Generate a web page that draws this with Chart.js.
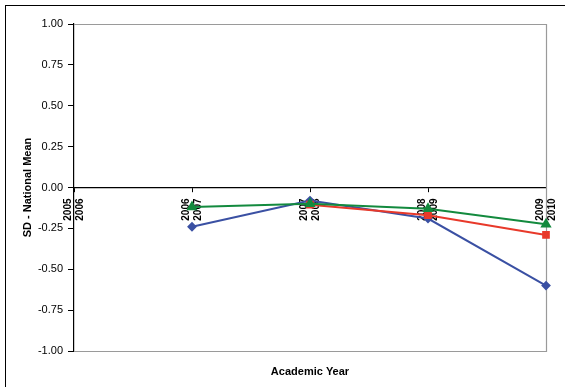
<!DOCTYPE html>
<html>
<head>
<meta charset="utf-8">
<script src="https://cdn.jsdelivr.net/npm/chart.js@4/dist/chart.umd.min.js"></script>
<style>
  html, body { margin: 0; padding: 0; background: #fff; }
  #wrap { position: relative; width: 565px; height: 387px; overflow: hidden; }
  #frame { position: absolute; left: 5px; top: 5px; width: 620px; height: 420px;
           border-left: 1.5px solid #000; border-top: 1.5px solid #000; }
  canvas { position: absolute; left: 0; top: 0; }
</style>
</head>
<body>
<div id="wrap">
  <div id="frame"></div>
  <canvas id="c" width="565" height="387"></canvas>
</div>
<script>
// Academic years on the category axis (two-line labels)
const years = [
  ['2005', '2006'],
  ['2006', '2007'],
  ['2007', '2008'],
  ['2008', '2009'],
  ['2009', '2010']
];

// Difference from the national mean, in SD units
const seriesBlue  = [null, -0.24, -0.08, -0.19, -0.60];
const seriesRed   = [null, null, -0.105, -0.17, -0.29];
const seriesGreen = [null, -0.12, -0.10, -0.13, -0.225];

const yTicks = [-1, -0.75, -0.5, -0.25, 0, 0.25, 0.5, 0.75, 1];

// Grey plot-area outline on the top, right and bottom sides
const plotFrame = {
  id: 'plotFrame',
  beforeDatasetsDraw(chart) {
    const { ctx, chartArea: a } = chart;
    ctx.save();
    ctx.strokeStyle = '#9a9a9a';
    ctx.lineWidth = 1.2;
    ctx.beginPath();
    ctx.moveTo(a.left, a.top + 0.5);
    ctx.lineTo(a.right + 0.5, a.top + 0.5);
    ctx.lineTo(a.right + 0.5, a.bottom + 0.5);
    ctx.lineTo(a.left, a.bottom + 0.5);
    ctx.stroke();
    ctx.restore();
  }
};

const font = 'Liberation Sans, Arial, sans-serif';

new Chart(document.getElementById('c'), {
  type: 'line',
  data: {
    labels: years,
    datasets: [
      {
        data: seriesGreen, xAxisID: 'x', yAxisID: 'y',
        borderColor: '#138a3e', backgroundColor: '#138a3e',
        borderWidth: 2, pointStyle: 'triangle', pointRadius: 4.5,
        tension: 0, spanGaps: false
      },
      {
        data: seriesRed, xAxisID: 'x', yAxisID: 'y',
        borderColor: '#e8392a', backgroundColor: '#e8392a',
        borderWidth: 2, pointStyle: 'rect', pointRadius: 4,
        tension: 0
      },
      {
        data: seriesBlue, xAxisID: 'x', yAxisID: 'y',
        borderColor: '#3a50a3', backgroundColor: '#3a50a3',
        borderWidth: 2, pointStyle: 'rectRot', pointRadius: 3.5,
        tension: 0
      }
    ]
  },
  options: {
    responsive: false,
    animation: false,
    events: [],
    layout: { padding: { top: 24, right: 19, bottom: 0, left: 0 } },
    plugins: { legend: { display: false }, tooltip: { enabled: false } },
    scales: {
      x: {
        type: 'category',
        position: { y: 0 },
        offset: false,
        grid: { drawOnChartArea: false, drawTicks: true, tickLength: 4, color: '#000', lineWidth: 1 },
        border: { display: true, color: '#000', width: 1.2 },
        ticks: {
          autoSkip: false, minRotation: 90, maxRotation: 90,
          padding: 7, labelOffset: -6,
          color: '#000',
          font: { family: font, size: 10, weight: 'bold', lineHeight: 1.2 }
        },
        afterFit(s) {
          s.paddingLeft = 0; s.paddingRight = 0;
          s.paddingTop = 0; s.paddingBottom = 0;
        }
      },
      xt: {
        type: 'category',
        position: 'bottom',
        labels: years,
        grid: { display: false },
        border: { display: false },
        ticks: { display: false },
        title: {
          display: true, text: 'Academic Year', color: '#000',
          font: { family: font, size: 11, weight: 'bold' },
          padding: { top: 0, bottom: 8 }
        },
        afterFit(s) { s.height = 36; }
      },
      y: {
        type: 'linear',
        position: 'left',
        min: -1, max: 1,
        afterBuildTicks(s) { s.ticks = yTicks.map(v => ({ value: v })); },
        grid: { drawOnChartArea: false, drawTicks: true, tickLength: 6, color: '#000', lineWidth: 1 },
        border: { display: true, color: '#000', width: 1.2 },
        ticks: {
          padding: 5, color: '#000',
          font: { family: font, size: 11 },
          callback: v => Number(v).toFixed(2)
        },
        title: {
          display: true, text: 'SD - National Mean', color: '#000',
          font: { family: font, size: 11, weight: 'bold' },
          padding: { top: 21, bottom: 0 }
        },
        afterFit(s) { s.width = 74; }
      }
    }
  },
  plugins: [plotFrame]
});
</script>
</body>
</html>
